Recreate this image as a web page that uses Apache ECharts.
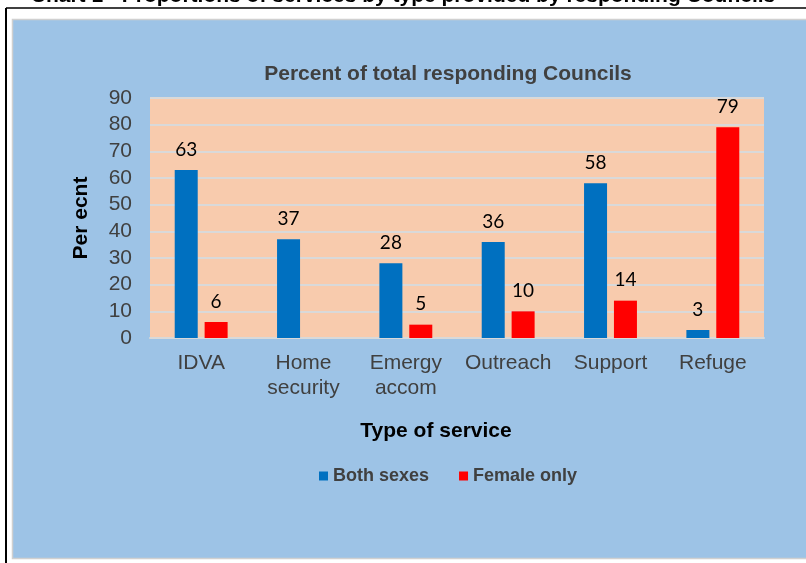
<!DOCTYPE html>
<html>
<head>
    <meta charset="utf-8">
    <title></title>
    <script src="https://cdn.jsdelivr.net/npm/echarts@6/dist/echarts.min.js"></script>
    <style>
        body{ margin:0; background:#fff; }
        #chart{ width:806px; height:563px; }
    </style>
</head>
<body>
<div id="chart"></div>
<script>
    var categories = ['IDVA', 'Home\nsecurity', 'Emergy\naccom', 'Outreach', 'Support', 'Refuge'];
    var bothSexes = [63, 37, 28, 36, 58, 3];
    var femaleOnly = [6, null, 5, 10, 14, 79];
    var yTicks = { min: 0, max: 90, interval: 10 };

    var labelStyle = {
        show: true,
        position: 'top',
        distance: 11,
        color: '#000',
        fontFamily: 'Lato',
        fontSize: 19
    };

    var chart = echarts.init(document.getElementById('chart'));
    chart.setOption({
        backgroundColor: '#fff',
        animation: false,
        graphic: [
            // clipped caption above the frame
            { type: 'text', left: 'center', top: -14,
              style: { text: 'Chart 1 - Proportions of services by type provided by responding Councils',
                       font: 'bold 21px Liberation Sans', fill: '#000' } },
            // outer frame
            { type: 'line', shape: { x1: 6, y1: 8, x2: 6, y2: 563 }, style: { stroke: '#000', lineWidth: 2 } },
            { type: 'line', shape: { x1: 6, y1: 8, x2: 806, y2: 8 }, style: { stroke: '#000', lineWidth: 1.5 } },
            // blue panel
            { type: 'rect', z: -10, shape: { x: 12.5, y: 19.5, width: 800, height: 539 },
              style: { fill: '#9DC3E6', stroke: '#D0D0D0', lineWidth: 1.5 } },
            // plot background
            { type: 'rect', z: -5, shape: { x: 150, y: 98, width: 614, height: 240 },
              style: { fill: '#F8CBAD' } }
        ],
        title: {
            text: 'Percent of total responding Councils',
            left: 443, top: 59, textAlign: 'center',
            textStyle: { fontFamily: 'Liberation Sans', fontWeight: 'bold', fontSize: 21, color: '#404040' }
        },
        legend: {
            top: 462, left: 314,
            itemWidth: 9, itemHeight: 9, itemGap: 30,
            icon: 'rect',
            textStyle: { fontFamily: 'Liberation Sans', fontWeight: 'bold', fontSize: 18, color: '#404040' },
            data: ['Both sexes', 'Female only']
        },
        grid: { left: 150, right: 42, top: 98, bottom: 225 },
        xAxis: {
            type: 'category',
            data: categories,
            name: 'Type of service',
            nameLocation: 'middle',
            nameGap: 83,
            nameTextStyle: { fontFamily: 'Liberation Sans', fontWeight: 'bold', fontSize: 21, color: '#000', padding: [0, 42, 0, 0] },
            axisLine: { lineStyle: { color: '#D9D9D9', width: 2 } },
            axisTick: { show: false },
            axisLabel: { interval: 0, fontFamily: 'Liberation Sans', fontSize: 21, color: '#404040', margin: 13, lineHeight: 25 }
        },
        yAxis: {
            type: 'value',
            min: yTicks.min, max: yTicks.max, interval: yTicks.interval,
            name: 'Per ecnt',
            nameLocation: 'middle',
            nameGap: 58,
            nameTextStyle: { fontFamily: 'Liberation Sans', fontWeight: 'bold', fontSize: 21, color: '#000' },
            axisLine: { show: false },
            axisTick: { show: false },
            splitLine: { lineStyle: { color: '#D9D9D9', width: 2 } },
            axisLabel: { fontFamily: 'Liberation Sans', fontSize: 21, color: '#404040', margin: 18 }
        },
        series: [
            { name: 'Both sexes', type: 'bar', data: bothSexes, barWidth: 23, barGap: '30%',
              itemStyle: { color: '#0070C0' }, label: labelStyle },
            { name: 'Female only', type: 'bar', data: femaleOnly, barWidth: 23,
              itemStyle: { color: '#FF0000' }, label: labelStyle }
        ]
    });
</script>
</body>
</html>
